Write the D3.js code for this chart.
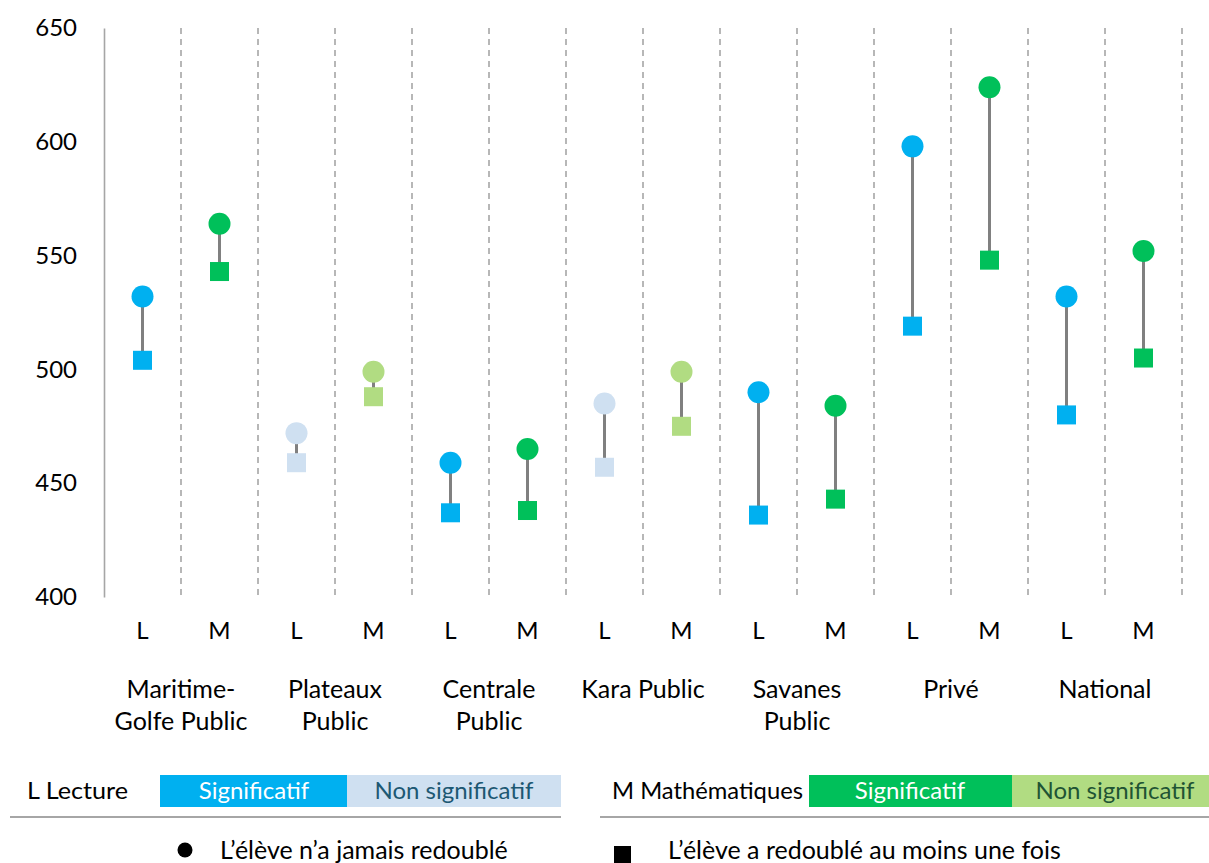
<!DOCTYPE html>
<html><head><meta charset="utf-8">
<script src="https://cdn.jsdelivr.net/npm/d3@7"></script>
<style>body{margin:0;background:#fff;} text{font-family:Lato,"Open Sans",sans-serif;}</style>
</head><body>
<svg id="c" width="1209" height="863"></svg>
<script>
const regions = ["Maritime-\nGolfe Public","Plateaux\nPublic","Centrale\nPublic","Kara Public","Savanes\nPublic","Privé","National"];
const subjects = ["L","M"];
// never repeated (circle), repeated at least once (square)
const neverL = [532, 472, 459, 485, 490, 598, 532];
const repL   = [504, 459, 437, 457, 436, 519, 480];
const neverM = [564, 499, 465, 499, 484, 624, 552];
const repM   = [543, 488, 438, 475, 443, 548, 505];
const sigL = [true, false, true, false, true, true, true];
const sigM = [true, false, true, false, true, true, true];
const yTicks = [400,450,500,550,600,650];
const colors = {L:{sig:"#00B0F0",non:"#CFE0F1"}, M:{sig:"#00C05A",non:"#B1DC82"}};

const svg = d3.select("#c");
const pLeft=104, pRight=1182, pTop=28, pBottom=597;
const cols = [];
regions.forEach((r,i)=>{
  cols.push({key:i+"L", s:"L", never:neverL[i], rep:repL[i], sig:sigL[i]});
  cols.push({key:i+"M", s:"M", never:neverM[i], rep:repM[i], sig:sigM[i]});
});
const x = d3.scaleBand().domain(cols.map(d=>d.key)).range([pLeft,pRight]).padding(0);
const xr = d3.scaleBand().domain(regions).range([pLeft,pRight]);
const y = d3.scaleLinear().domain([400,650]).range([pBottom,pTop]);

// dashed separators
svg.append("g").selectAll("line").data(cols).join("line")
  .attr("x1",d=>x(d.key)+x.bandwidth()).attr("x2",d=>x(d.key)+x.bandwidth())
  .attr("y1",pTop).attr("y2",pBottom)
  .attr("stroke","#A6A6A6").attr("stroke-width",1.6).attr("stroke-dasharray","6,5");

// y axis
const ya = svg.append("g").attr("transform",`translate(${pLeft},0)`)
  .call(d3.axisLeft(y).tickValues(yTicks).tickSize(0).tickPadding(27));
ya.select(".domain").attr("stroke","#A6A6A6").attr("stroke-width",1.6);
ya.selectAll("text").attr("font-size",24).attr("fill","#000").style("font-family","Lato,sans-serif");

// x subject labels
const xa = svg.append("g").attr("transform",`translate(0,${pBottom})`)
  .call(d3.axisBottom(x).tickSize(0).tickPadding(25).tickFormat(k=>k.slice(-1)));
xa.select(".domain").remove();
xa.selectAll("text").attr("font-size",24).attr("fill","#000").style("font-family","Lato,sans-serif");

// region labels
svg.append("g").selectAll("text").data(regions).join("text")
  .attr("x",d=>xr(d)+xr.bandwidth()/2).attr("y",698)
  .attr("text-anchor","middle").attr("font-size",25).attr("fill","#000")
  .each(function(d){
    d3.select(this).selectAll("tspan").data(d.split("\n")).join("tspan")
      .attr("x",xr(d)+xr.bandwidth()/2).attr("dy",(t,j)=>j?32:0).text(t=>t);
  });

const cx = d=>x(d.key)+x.bandwidth()/2;
const col = d=>d.sig?colors[d.s].sig:colors[d.s].non;
const g = svg.append("g");
g.selectAll("line.c").data(cols).join("line").attr("class","c")
  .attr("x1",cx).attr("x2",cx).attr("y1",d=>y(d.never)).attr("y2",d=>y(d.rep))
  .attr("stroke","#808080").attr("stroke-width",3);
g.selectAll("rect").data(cols).join("rect")
  .attr("x",d=>cx(d)-9.5).attr("y",d=>y(d.rep)-9.5).attr("width",19).attr("height",19)
  .attr("fill",col);
g.selectAll("circle").data(cols).join("circle")
  .attr("cx",cx).attr("cy",d=>y(d.never)).attr("r",11).attr("fill",col);

// legend
const lg = svg.append("g");
lg.append("text").attr("x",27).attr("y",799).attr("font-size",24).attr("textLength",101).attr("lengthAdjust","spacingAndGlyphs").text("L Lecture");
lg.append("rect").attr("x",160).attr("y",775).attr("width",187).attr("height",32).attr("fill",colors.L.sig);
lg.append("rect").attr("x",347).attr("y",775).attr("width",214).attr("height",32).attr("fill",colors.L.non);
lg.append("text").attr("x",254).attr("y",799).attr("text-anchor","middle").attr("font-size",24).attr("fill","#fff").text("Significatif");
lg.append("text").attr("x",454).attr("y",799).attr("text-anchor","middle").attr("font-size",24).attr("fill","#1D5873").text("Non significatif");
lg.append("line").attr("x1",10).attr("x2",561).attr("y1",817).attr("y2",817).attr("stroke","#A6A6A6").attr("stroke-width",2);

lg.append("text").attr("x",612).attr("y",799).attr("font-size",24).attr("textLength",191).attr("lengthAdjust","spacingAndGlyphs").text("M Mathématiques");
lg.append("rect").attr("x",809).attr("y",775).attr("width",203).attr("height",32).attr("fill",colors.M.sig);
lg.append("rect").attr("x",1012).attr("y",775).attr("width",197).attr("height",32).attr("fill",colors.M.non);
lg.append("text").attr("x",910).attr("y",799).attr("text-anchor","middle").attr("font-size",24).attr("fill","#fff").text("Significatif");
lg.append("text").attr("x",1115).attr("y",799).attr("text-anchor","middle").attr("font-size",24).attr("fill","#1F5434").text("Non significatif");
lg.append("line").attr("x1",600).attr("x2",1209).attr("y1",817).attr("y2",817).attr("stroke","#A6A6A6").attr("stroke-width",2);

lg.append("circle").attr("cx",185).attr("cy",850).attr("r",7.5).attr("fill","#000");
lg.append("text").attr("x",220).attr("y",859).attr("font-size",25).text("L’élève n’a jamais redoublé");
lg.append("rect").attr("x",614).attr("y",846).attr("width",17).attr("height",17).attr("fill","#000");
lg.append("text").attr("x",668).attr("y",859).attr("font-size",25).text("L’élève a redoublé au moins une fois");
</script>
</body></html>
